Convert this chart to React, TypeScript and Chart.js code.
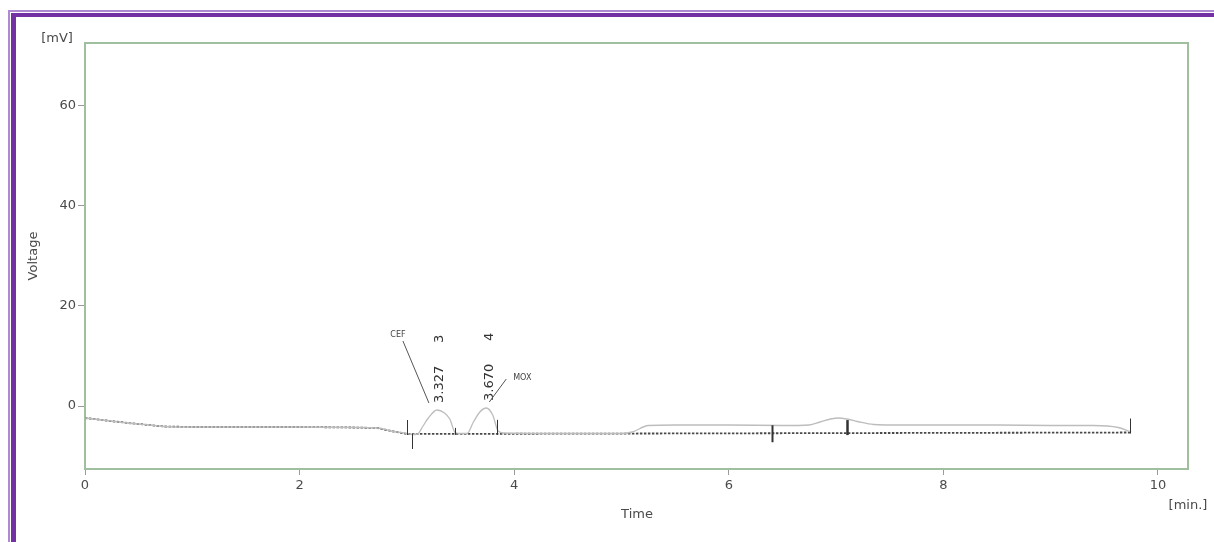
import React, { useEffect, useRef } from "react";
import { Chart, registerables } from "chart.js";

Chart.register(...registerables);

// ---------- data ----------
const X_MIN = 0;
const X_MAX = 10.28;
const Y_MIN = -12.6;
const Y_MAX = 72.6;
const X_TICKS = [0, 2, 4, 6, 8, 10];
const Y_TICKS = [0, 20, 40, 60];

const Y_UNIT = "[mV]";
const Y_TITLE = "Voltage";
const X_TITLE = "Time";
const X_UNIT = "[min.]";

// detector signal (min, mV)
const SIGNAL_T = [0, 0.2, 0.4, 0.6, 0.73, 1.0, 1.5, 2.0, 2.5, 2.73, 2.85, 3.0, 3.05, 3.1, 3.15, 3.2, 3.28, 3.35, 3.4, 3.45, 3.5, 3.56, 3.62, 3.68, 3.74, 3.8, 3.85, 3.9, 4.5, 5.0, 5.1, 5.25, 5.5, 6.0, 6.5, 6.75, 6.85, 6.95, 7.02, 7.1, 7.2, 7.35, 7.6, 8.0, 8.5, 9.0, 9.4, 9.63, 9.75];
const SIGNAL_V = [-2.4, -2.9, -3.4, -3.8, -4.1, -4.2, -4.2, -4.2, -4.3, -4.4, -5.0, -5.5, -5.7, -5.6, -4.0, -2.4, -0.8, -1.4, -2.6, -5.3, -5.5, -5.5, -3.2, -1.2, -0.4, -1.8, -5.0, -5.4, -5.5, -5.5, -5.2, -3.9, -3.8, -3.8, -3.9, -3.8, -3.2, -2.6, -2.4, -2.6, -3.1, -3.7, -3.8, -3.8, -3.8, -3.9, -3.9, -4.3, -5.2];

// integration baseline
const BASE_T = [0, 0.2, 0.4, 0.6, 0.73, 1.0, 1.5, 2.0, 2.5, 2.73, 2.85, 3.0, 9.75];
const BASE_V = [-2.4, -2.9, -3.4, -3.8, -4.1, -4.2, -4.2, -4.2, -4.3, -4.4, -5.0, -5.6, -5.3];

// peaks
const PEAK_RT = [3.327, 3.67];
const PEAK_RT_LABELS = ["3.327", "3.670"];
const PEAK_NUMBERS = ["3", "4"];
const PEAK_NAMES = ["CEF", "MOX"];

// integration event marks
const MARK_T = [3.0, 3.05, 3.45, 3.84, 6.4, 7.1, 9.74];
const MARK_KIND = ["up", "down", "small", "up", "both", "bold", "up"];

const FONT = "'DejaVu Sans', Verdana, sans-serif";
const TEXT_COLOR = "#4a4a4a";
const FRAME_GREEN = "#9fbf9f";

function baselineAt(t: number): number {
  for (let i = 0; i < BASE_T.length - 1; i++) {
    if (t >= BASE_T[i] && t <= BASE_T[i + 1]) {
      const f = (t - BASE_T[i]) / (BASE_T[i + 1] - BASE_T[i]);
      return BASE_V[i] + f * (BASE_V[i + 1] - BASE_V[i]);
    }
  }
  return BASE_V[BASE_V.length - 1];
}

function apexIndex(rt: number): number {
  let best = -1;
  for (let i = 0; i < SIGNAL_T.length; i++) {
    if (Math.abs(SIGNAL_T[i] - rt) <= 0.1) {
      if (best < 0 || SIGNAL_V[i] > SIGNAL_V[best]) best = i;
    }
  }
  return best;
}

const frameBorderPlugin = {
  id: "frameBorder",
  beforeDatasetsDraw(chart: any) {
    const { ctx, chartArea } = chart;
    ctx.save();
    ctx.strokeStyle = FRAME_GREEN;
    ctx.lineWidth = 2;
    ctx.strokeRect(chartArea.left, chartArea.top, chartArea.right - chartArea.left, chartArea.bottom - chartArea.top);
    ctx.restore();
  },
};

const annotPlugin = {
  id: "annot",
  afterDatasetsDraw(chart: any) {
    const { ctx } = chart;
    const xs = chart.scales.x;
    const ys = chart.scales.y;
    ctx.save();

    // integration marks
    ctx.strokeStyle = "#333";
    MARK_T.forEach((t, i) => {
      const px = Math.round(xs.getPixelForValue(t)) + 0.5;
      const py = ys.getPixelForValue(baselineAt(t));
      const kind = MARK_KIND[i];
      let top = py, bottom = py;
      ctx.lineWidth = 1;
      if (kind === "up") { top = py - 14; bottom = py + 1; }
      else if (kind === "down") { top = py; bottom = py + 15; }
      else if (kind === "small") { top = py - 6; bottom = py + 1; }
      else if (kind === "both") { top = py - 8; bottom = py + 9; ctx.lineWidth = 2; }
      else if (kind === "bold") { top = py - 13; bottom = py + 2; ctx.lineWidth = 2.5; }
      ctx.beginPath();
      ctx.moveTo(px, top);
      ctx.lineTo(px, bottom);
      ctx.stroke();
    });

    // peak labels
    PEAK_RT.forEach((rt, i) => {
      const ai = apexIndex(rt);
      const ax = xs.getPixelForValue(SIGNAL_T[ai]);
      const ay = ys.getPixelForValue(SIGNAL_V[ai]);
      ctx.fillStyle = "#333";
      ctx.font = `13px ${FONT}`;
      ctx.textBaseline = "middle";
      ctx.save();
      ctx.translate(ax + 3, ay - 7);
      ctx.rotate(-Math.PI / 2);
      ctx.textAlign = "left";
      ctx.fillText(PEAK_RT_LABELS[i], 0, 0);
      ctx.fillText(PEAK_NUMBERS[i], 60, 0);
      ctx.restore();

      // compound name with leader line
      ctx.strokeStyle = "#555";
      ctx.lineWidth = 1;
      ctx.font = `8px ${FONT}`;
      ctx.fillStyle = "#444";
      ctx.textAlign = "center";
      if (i === 0) {
        ctx.fillText(PEAK_NAMES[i], ax - 39, ay - 75);
        ctx.beginPath();
        ctx.moveTo(ax - 34, ay - 69);
        ctx.lineTo(ax - 8, ay - 7);
        ctx.stroke();
      } else {
        ctx.fillText(PEAK_NAMES[i], ax + 36, ay - 30);
        ctx.beginPath();
        ctx.moveTo(ax + 20, ay - 29);
        ctx.lineTo(ax + 3, ay - 6);
        ctx.stroke();
      }
    });
    ctx.restore();
  },
  afterDraw(chart: any) {
    const { ctx } = chart;
    ctx.save();
    ctx.fillStyle = TEXT_COLOR;
    ctx.font = `13px ${FONT}`;
    ctx.textAlign = "center";
    ctx.textBaseline = "middle";
    ctx.fillText(Y_UNIT, 57, 39);
    ctx.fillText(X_TITLE, 637, 515);
    ctx.fillText(X_UNIT, 1188, 506);
    ctx.save();
    ctx.translate(34, 256);
    ctx.rotate(-Math.PI / 2);
    ctx.fillText(Y_TITLE, 0, 0);
    ctx.restore();
    ctx.restore();
  },
};

export default function App() {
  const canvasRef = useRef<HTMLCanvasElement | null>(null);

  useEffect(() => {
    const canvas = canvasRef.current;
    if (!canvas) return;
    const signal = SIGNAL_T.map((t, i) => ({ x: t, y: SIGNAL_V[i] }));
    const base = BASE_T.map((t, i) => ({ x: t, y: BASE_V[i] }));
    const chart = new Chart(canvas, {
      type: "line",
      data: {
        datasets: [
          {
            label: "signal",
            data: signal,
            borderColor: "#bdbdbd",
            borderWidth: 1.3,
            pointRadius: 0,
            cubicInterpolationMode: "monotone",
            fill: false,
          },
          {
            label: "baseline",
            data: base,
            borderColor: "#4a4a4a",
            borderWidth: 1.8,
            borderDash: [2.5, 1.5],
            pointRadius: 0,
            tension: 0,
            fill: false,
          },
        ],
      },
      options: {
        responsive: false,
        animation: false,
        devicePixelRatio: 1,
        layout: { padding: { left: 0, top: 43, right: 26, bottom: 0 } },
        plugins: {
          legend: { display: false },
          tooltip: { enabled: false },
          title: { display: false },
        },
        scales: {
          x: {
            type: "linear",
            min: X_MIN,
            max: X_MAX,
            afterBuildTicks: (s: any) => { s.ticks = X_TICKS.map((v) => ({ value: v })); },
            afterFit: (s: any) => { s.height = 73; },
            grid: { display: true, drawOnChartArea: false, drawTicks: true, tickLength: 6, color: "#9a9a9a" },
            border: { display: false },
            ticks: { color: TEXT_COLOR, font: { family: FONT, size: 13 }, padding: 3, maxRotation: 0, autoSkip: false },
          },
          y: {
            type: "linear",
            min: Y_MIN,
            max: Y_MAX,
            afterBuildTicks: (s: any) => { s.ticks = Y_TICKS.map((v) => ({ value: v })); },
            afterFit: (s: any) => { s.width = 85; },
            grid: { display: true, drawOnChartArea: false, drawTicks: true, tickLength: 7, color: "#9a9a9a" },
            border: { display: false },
            ticks: { color: TEXT_COLOR, font: { family: FONT, size: 13 }, padding: 2 },
          },
        },
      },
      plugins: [frameBorderPlugin, annotPlugin],
    });
    return () => chart.destroy();
  }, []);

  return (
    <div style={{ position: "fixed", left: 0, top: 0, width: 1214, height: 542, overflow: "hidden", background: "#ffffff" }}>
      <canvas ref={canvasRef} width={1214} height={542} style={{ position: "absolute", left: 0, top: 0, width: 1214, height: 542 }} />
      <div style={{ position: "absolute", left: 8, top: 10, width: 1400, height: 800, borderLeft: "2px solid #b08ad0", borderTop: "2px solid #b08ad0", pointerEvents: "none" }} />
      <div style={{ position: "absolute", left: 11, top: 13, width: 1400, height: 800, borderLeft: "5px solid #7431a3", borderTop: "4px solid #7431a3", pointerEvents: "none" }} />
    </div>
  );
}
